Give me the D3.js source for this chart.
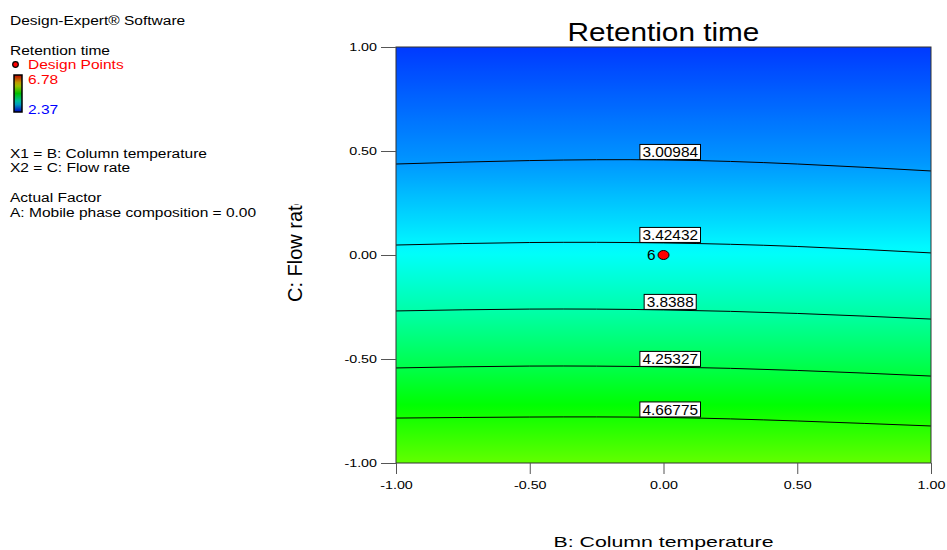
<!DOCTYPE html>
<html>
<head>
<meta charset="utf-8">
<script src="https://cdn.jsdelivr.net/npm/d3@7"></script>
<style>
  body { margin: 0; background: #fff; }
  text { font-family: "Liberation Sans", Arial, sans-serif; }
</style>
</head>
<body>
<div id="chart"></div>
<script>
var width = 947,
    height = 550;

// response range shown in legend
var colorMin = 2.37, colorMax = 6.78;
var colorStops = ["#0000ff", "#00ffff", "#00ff00", "#ffff00", "#ff0000"];

// contour levels and their C position at each B sample
var bSamples = [-1, -0.5, 0, 0.5, 1];
var levels = [3.00984, 3.42432, 3.8388, 4.25327, 4.66775];
var contourC = [
  [0.4375, 0.454, 0.457, 0.4375, 0.404],
  [0.048, 0.060, 0.058, 0.041, 0.010],
  [-0.269, -0.260, -0.264, -0.281, -0.308],
  [-0.543, -0.534, -0.538, -0.555, -0.582],
  [-0.784, -0.779, -0.781, -0.798, -0.822]
];
var labelB = 0.025;
// estimated response at top/bottom edge (B = 0)
var edgeC = [1, -1];
var edgeVal = [2.62, 5.0];

var ticks = [-1, -0.5, 0, 0.5, 1];
var designPoints = [{b: 0, c: 0, n: 6}];

var legendLines = [
  {t: "Design-Expert\u00ae Software", y: 25, c: "#000"},
  {t: "Retention time", y: 55, c: "#000"},
  {t: "Design Points", y: 69, c: "#ff0000", x: 28},
  {t: "6.78", y: 84, c: "#ff0000", x: 28},
  {t: "2.37", y: 114, c: "#0000ff", x: 28},
  {t: "X1 = B: Column temperature", y: 158, c: "#000"},
  {t: "X2 = C: Flow rate", y: 172, c: "#000"},
  {t: "Actual Factor", y: 202, c: "#000"},
  {t: "A: Mobile phase composition = 0.00", y: 217, c: "#000"}
];

var x = d3.scaleLinear().domain([-1, 1]).range([396, 931]);
var y = d3.scaleLinear().domain([-1, 1]).range([463, 47]);

var color = d3.scaleLinear()
    .domain(d3.range(5).map(function(i) { return colorMin + i * (colorMax - colorMin) / 4; }))
    .range(colorStops)
    .clamp(true);

var fmt = function(d) { return d3.format(".2f")(d).replace("\u2212", "-"); };

var svg = d3.select("#chart").append("svg")
    .attr("width", width)
    .attr("height", height);

// text drawn wide, like the original export
function wideText(parent, px, py, sx, size, anchor, str) {
  return parent.append("text")
      .attr("transform", "translate(" + px + "," + py + ") scale(" + sx + ",1)")
      .attr("text-anchor", anchor)
      .attr("font-size", size)
      .text(str);
}

var defs = svg.append("defs");

// vertical fill gradient: value as function of C (middle column)
var midIdx = bSamples.indexOf(0);
var cKnots = [edgeC[0]].concat(contourC.map(function(r) { return r[midIdx]; })).concat([edgeC[1]]);
var vKnots = [edgeVal[0]].concat(levels).concat([edgeVal[1]]);
var valAt = d3.scaleLinear().domain(cKnots).range(vKnots);

var grad = defs.append("linearGradient")
    .attr("id", "fillGrad")
    .attr("x1", 0).attr("y1", 0).attr("x2", 0).attr("y2", 1);
d3.range(0, 1.0001, 0.02).forEach(function(t) {
  var c = 1 - 2 * t;
  grad.append("stop").attr("offset", t).attr("stop-color", color(valAt(c)));
});

var legGrad = defs.append("linearGradient")
    .attr("id", "legGrad")
    .attr("x1", 0).attr("y1", 1).attr("x2", 0).attr("y2", 0);
d3.range(0, 1.0001, 0.1).forEach(function(t) {
  legGrad.append("stop").attr("offset", t)
      .attr("stop-color", d3.interpolateRgb("#000", color(colorMin + t * (colorMax - colorMin)))(0.75));
});

defs.append("clipPath").attr("id", "plotClip")
  .append("rect").attr("x", 396).attr("y", 47).attr("width", 535).attr("height", 416);
defs.append("clipPath").attr("id", "ylabClip")
  .append("rect").attr("x", 270).attr("y", 204).attr("width", 60).attr("height", 120);

// plot area fill
svg.append("rect")
    .attr("x", x(-1)).attr("y", y(1))
    .attr("width", x(1) - x(-1)).attr("height", y(-1) - y(1))
    .attr("fill", "url(#fillGrad)");

// contour lines
var line = d3.line()
    .x(function(d) { return x(d[0]); })
    .y(function(d) { return y(d[1]); })
    .curve(d3.curveNatural);

var plot = svg.append("g").attr("clip-path", "url(#plotClip)");
contourC.forEach(function(row) {
  plot.append("path")
      .datum(bSamples.map(function(b, i) { return [b, row[i]]; }))
      .attr("d", line)
      .attr("fill", "none")
      .attr("stroke", "#000")
      .attr("stroke-width", 1);
});

// contour labels
levels.forEach(function(v, i) {
  var cy = y(contourC[i][midIdx]);
  var g = svg.append("g").attr("transform", "translate(" + x(labelB) + "," + (cy - 8) + ")");
  var t = g.append("text")
      .attr("transform", "scale(1.1,1)")
      .attr("text-anchor", "middle")
      .attr("dy", "0.36em")
      .attr("font-size", 14)
      .text(v);
  var w = t.node().getComputedTextLength() * 1.1;
  g.insert("rect", "text")
      .attr("x", -w / 2 - 2.5).attr("y", -7.5)
      .attr("width", w + 5).attr("height", 15)
      .attr("fill", "#fff")
      .attr("stroke", "#000")
      .attr("stroke-width", 1);
});

// design points
designPoints.forEach(function(p) {
  svg.append("ellipse")
      .attr("cx", x(p.b)).attr("cy", y(p.c))
      .attr("rx", 5.5).attr("ry", 4.5)
      .attr("fill", "#ff0000")
      .attr("stroke", "#000")
      .attr("stroke-width", 1);
  wideText(svg, x(p.b) - 8, y(p.c) + 5, 1.1, 14, "end", p.n);
});

// frame
svg.append("rect")
    .attr("x", x(-1)).attr("y", y(1))
    .attr("width", x(1) - x(-1)).attr("height", y(-1) - y(1))
    .attr("fill", "none")
    .attr("stroke", "#333")
    .attr("stroke-width", 1);

// axes
var tickSx = 1.3;
var xAxis = svg.append("g")
    .attr("transform", "translate(0," + y(-1) + ")")
    .call(d3.axisBottom(x).tickValues(ticks).tickFormat(fmt).tickSize(11).tickPadding(15));
var yAxis = svg.append("g")
    .attr("transform", "translate(" + x(-1) + ",0)")
    .call(d3.axisLeft(y).tickValues(ticks).tickFormat(fmt).tickSize(15).tickPadding(4));
[xAxis, yAxis].forEach(function(a) {
  a.select(".domain").remove();
  a.selectAll(".tick line").attr("stroke", "#555");
  a.selectAll("text").attr("font-size", 11).attr("fill", "#000")
      .attr("font-family", "Liberation Sans, Arial, sans-serif")
      .attr("transform", "scale(" + tickSx + ",1)");
});
xAxis.selectAll("text").attr("dy", 0).attr("y", 26);
yAxis.selectAll("text").attr("x", -19 / tickSx);

// titles
wideText(svg, x(0), 41, 1.19, 25, "middle", "Retention time");
wideText(svg, x(0), 547, 1.42, 15, "middle", "B: Column temperature");
svg.append("g").attr("clip-path", "url(#ylabClip)")
  .append("text")
    .attr("transform", "translate(302,302) rotate(-90)")
    .attr("text-anchor", "start")
    .attr("font-size", 20)
    .text("C: Flow rate");

// left legend
legendLines.forEach(function(d) {
  wideText(svg, d.x || 10, d.y, 1.15, 13.5, "start", d.t).attr("fill", d.c);
});
svg.append("circle")
    .attr("cx", 15.5).attr("cy", 64.5).attr("r", 2.8)
    .attr("fill", "#ff0000").attr("stroke", "#000").attr("stroke-width", 1.2);
svg.append("rect")
    .attr("x", 14).attr("y", 75).attr("width", 8).attr("height", 37)
    .attr("fill", "url(#legGrad)")
    .attr("stroke", "#000").attr("stroke-width", 1.5);
</script>
</body>
</html>
